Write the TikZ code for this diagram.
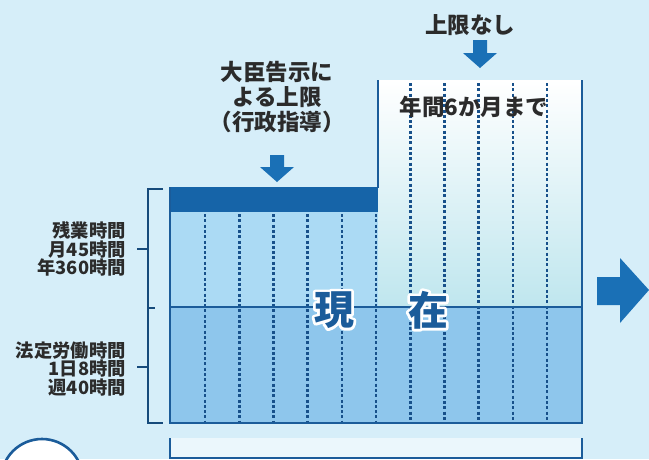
\documentclass[tikz,border=0pt]{standalone}
\usepackage{fontspec}
\newfontfamily\jp{Noto Sans CJK JP}
\definecolor{bg}{HTML}{D6EEF9}
\definecolor{upperc}{HTML}{ABDAF4}
\definecolor{lowerc}{HTML}{8EC6EC}
\definecolor{rightup}{HTML}{BFE6EE}
\definecolor{darkbar}{HTML}{1664A8}
\definecolor{linec}{HTML}{1B5C9A}
\definecolor{dotc}{HTML}{17508A}
\definecolor{arrowc}{HTML}{1A70B6}
\definecolor{txt}{HTML}{2B2B2B}
\newcommand\myhalo[1]{%
  \rlap{\special{pdf:literal direct 1 Tr 5.4 w 1 1 1 RG 1 j 1 J}#1\special{pdf:literal direct 0 Tr 0.4 w 0 j 0 J}}%
  #1}
\tikzset{
  border/.style={draw=linec, line width=2.6pt},
  midline/.style={draw=linec, line width=2pt},
  dotline/.style={draw=dotc, line width=2.6pt, dash pattern=on 3pt off 2.3pt},
  brk/.style={draw=linec!80!black, line width=1.2pt},
  lbl/.style={font=\jp\bfseries\fontsize{22.5}{25}\selectfont, text=txt, align=center, inner sep=0pt},
  sidelbl/.style={font=\jp\bfseries\fontsize{18.3}{18.8}\selectfont, text=txt, align=right, inner sep=0pt, anchor=east},
  bigc/.style={font=\jp\bfseries\fontsize{40}{40}\selectfont, inner sep=0pt},
}
\begin{document}
\begin{tikzpicture}[x=1pt,y=-1pt]
\useasboundingbox (0,0) rectangle (649,459);
\fill[bg] (0,0) rectangle (649,459);
% box fills
\fill[upperc] (170,212) rectangle (378,307);
\shade[top color=white, bottom color=rightup] (378,80) rectangle (582,307);
\fill[lowerc] (170,307) rectangle (582,423);
\fill[darkbar] (170,187) rectangle (378,212);
% bottom bracket fill
\fill[bg!50!white] (170,438) rectangle (582,458);
% dotted lines
\foreach \i in {0,...,5} \draw[dotline] ({205+34.2*\i},214) -- ({205+34.2*\i},423);
\foreach \i in {6,...,10} \draw[dotline] ({205+34.2*\i},83) -- ({205+34.2*\i},423);
% borders
\draw[midline] (170,307) -- (582,307);
\draw[border] (170,187) -- (170,423) -- (582,423) -- (582,80);
\draw[border] (378,80) -- (378,188);
\draw[border] (170,438) -- (170,458) -- (582,458) -- (582,438);
% left bracket
\draw[brk] (163,189) -- (148,189) -- (148,423) -- (163,423);
\draw[brk] (137,249) -- (148,249);
\draw[brk] (148,308) -- (155,308);
\draw[brk] (137,367) -- (148,367);
% side labels
\node[sidelbl] (ot) at (126,249) {残業時間\\月45時間\\年360時間};
\node[sidelbl] (lg) at (126,369) {法定労働時間\\1日8時間\\週40時間};
% top labels
\node[lbl] (mn) at (277,97) {大臣告示に\\よる上限\\（行政指導）};
\node[lbl] (nl) at (470,25) {上限なし};
\node[lbl] (hy) at (474,107) {年間6か月まで};
% arrows
\fill[arrowc] (270,155) -- (284,155) -- (284,167) -- (294,167) -- (277,182) -- (260,167) -- (270,167) -- cycle;
\fill[arrowc] (473,40) -- (487,40) -- (487,53) -- (497,53) -- (480,68) -- (463,53) -- (473,53) -- cycle;
\fill[arrowc] (597,277) -- (620,277) -- (620,258) -- (649,290) -- (620,323) -- (620,305) -- (597,305) -- cycle;
% circle bottom left
\draw[draw=linec, line width=2.6pt, fill=white] (42,480) circle (41pt);
% big text with white halo
\node[bigc, text=linec] (g1) at (334,310) {\myhalo{現}};
\node[bigc, text=linec] (g2) at (428,310) {\myhalo{在}};
\end{tikzpicture}
\end{document}
